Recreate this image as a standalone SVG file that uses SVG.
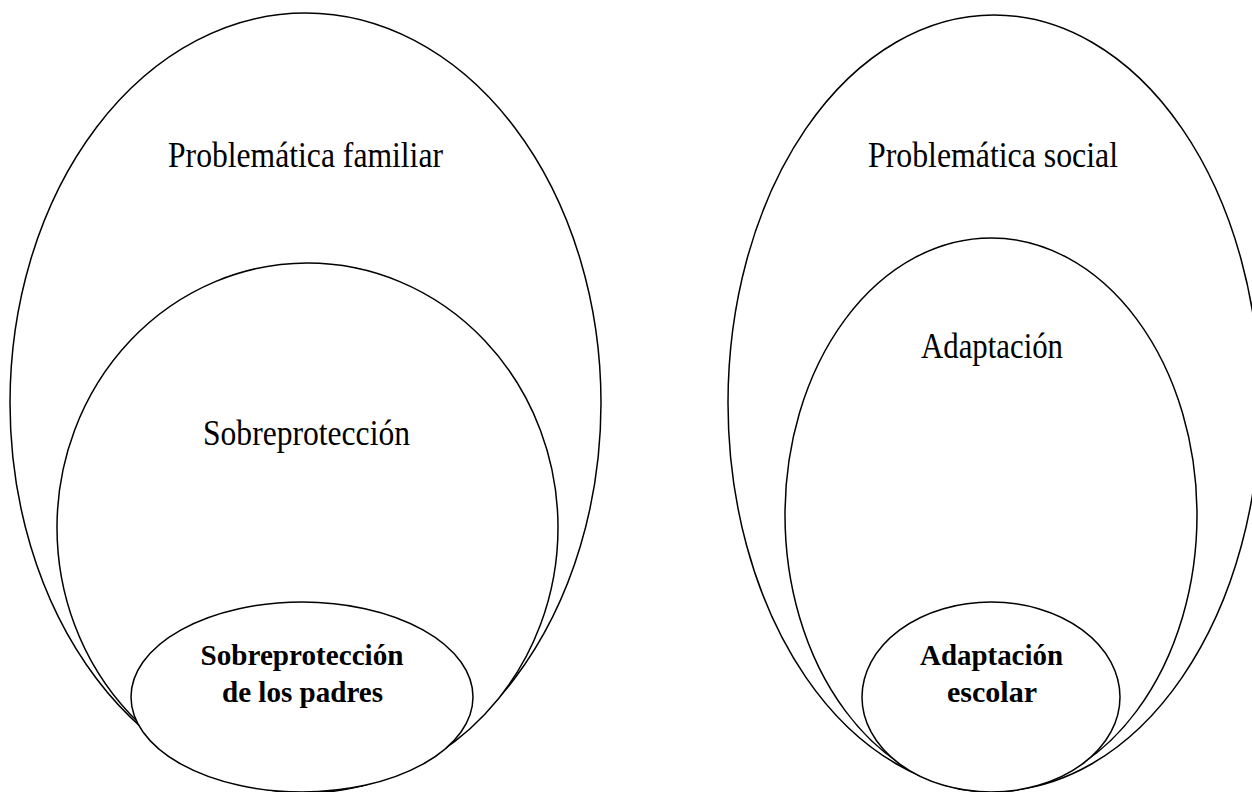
<svg xmlns="http://www.w3.org/2000/svg" width="1252" height="792" viewBox="0 0 1252 792">
<style>
.e{fill:#fff;stroke:#000;stroke-width:1.5}
.t{font-family:"Liberation Serif","Times New Roman",serif;font-size:35px;fill:#000;text-anchor:middle}
.b{font-family:"Liberation Serif","Times New Roman",serif;font-size:30px;font-weight:bold;fill:#000;text-anchor:middle}
</style>
<rect x="0" y="0" width="1252" height="792" fill="#fff"/>
<g id="problematica-familiar">
<ellipse class="e" cx="305.5" cy="403" rx="295.5" ry="390"/>
<text class="t" x="305.5" y="167" textLength="275" lengthAdjust="spacingAndGlyphs">Problemática familiar</text>
</g>
<g id="sobreproteccion">
<ellipse class="e" cx="307.5" cy="527.5" rx="250.5" ry="264.5"/>
<text class="t" x="306.5" y="445" textLength="207" lengthAdjust="spacingAndGlyphs">Sobreprotección</text>
</g>
<g id="sobreproteccion-padres">
<ellipse class="e" cx="302" cy="697" rx="171" ry="95"/>
<text class="b" x="302" y="665" textLength="203" lengthAdjust="spacingAndGlyphs">Sobreprotección</text>
<text class="b" x="302.5" y="702" textLength="161" lengthAdjust="spacingAndGlyphs">de los padres</text>
</g>
<g id="problematica-social">
<ellipse class="e" cx="994" cy="403" rx="266" ry="388"/>
<text class="t" x="993" y="167" textLength="250" lengthAdjust="spacingAndGlyphs">Problemática social</text>
</g>
<g id="adaptacion">
<ellipse class="e" cx="991" cy="515" rx="206" ry="277"/>
<text class="t" x="992" y="358" textLength="142" lengthAdjust="spacingAndGlyphs">Adaptación</text>
</g>
<g id="adaptacion-escolar">
<ellipse class="e" cx="991" cy="697" rx="129" ry="95"/>
<text class="b" x="991.5" y="665" textLength="143" lengthAdjust="spacingAndGlyphs">Adaptación</text>
<text class="b" x="992" y="702" textLength="90" lengthAdjust="spacingAndGlyphs">escolar</text>
</g>
<g id="connectors"/>
</svg>
